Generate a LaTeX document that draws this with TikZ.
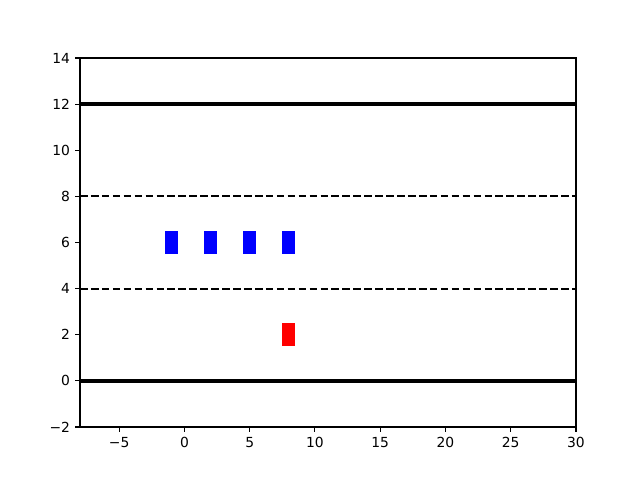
\documentclass[tikz,border=0pt]{standalone}
\usepackage{fontspec}
\setmainfont{DejaVu Sans}
\begin{document}
\begin{tikzpicture}[x=9.7895pt,y=17.2969pt,
  spine/.style={line width=0.8pt},
  road/.style={line width=3.1pt},
  lane/.style={line width=1.55pt,dash pattern=on 5.7pt off 2.5pt},
  tick/.style={line width=0.8pt},
  lbl/.style={font=\fontsize{10.4}{12}\selectfont,inner sep=0pt},
  bluecar/.style={fill=blue,draw=none},
  redcar/.style={fill=red,draw=none}]
\useasboundingbox (-14.129,-4.298) rectangle (34.904,16.515);
\fill[white] (-14.129,-4.298) rectangle (34.904,16.515);
% lane markings
\draw[road] (-8,0) -- (30,0);
\draw[road] (-8,12) -- (30,12);
\draw[lane] (-8,4) -- (30,4);
\draw[lane] (-8,8) -- (30,8);
% cars
\foreach \cx/\nm in {-1/b1,2/b2,5/b3,8/b4}
  \fill[bluecar] (\cx-0.5,5.5) rectangle (\cx+0.5,6.5);
\fill[redcar] (7.5,1.5) rectangle (8.5,2.5);
% frame
\draw[spine] (-8,-2) rectangle (30,14);
% x ticks
\foreach \t/\s in {-5/{−5},0/0,5/5,10/10,15/15,20/20,25/25,30/30}{
  \draw[tick] (\t,-2) -- ++(0,-3.5pt);
  \node[lbl,anchor=north] (xt\t) at ([yshift=-7.3pt]\t,-2) {\s};
}
% y ticks
\foreach \t/\s in {-2/{−2},0/0,2/2,4/4,6/6,8/8,10/10,12/12,14/14}{
  \draw[tick] (-8,\t) -- ++(-3.5pt,0);
  \node[lbl,anchor=east] (yt\t) at ([xshift=-7.3pt]-8,\t) {\s};
}
\end{tikzpicture}
\end{document}
